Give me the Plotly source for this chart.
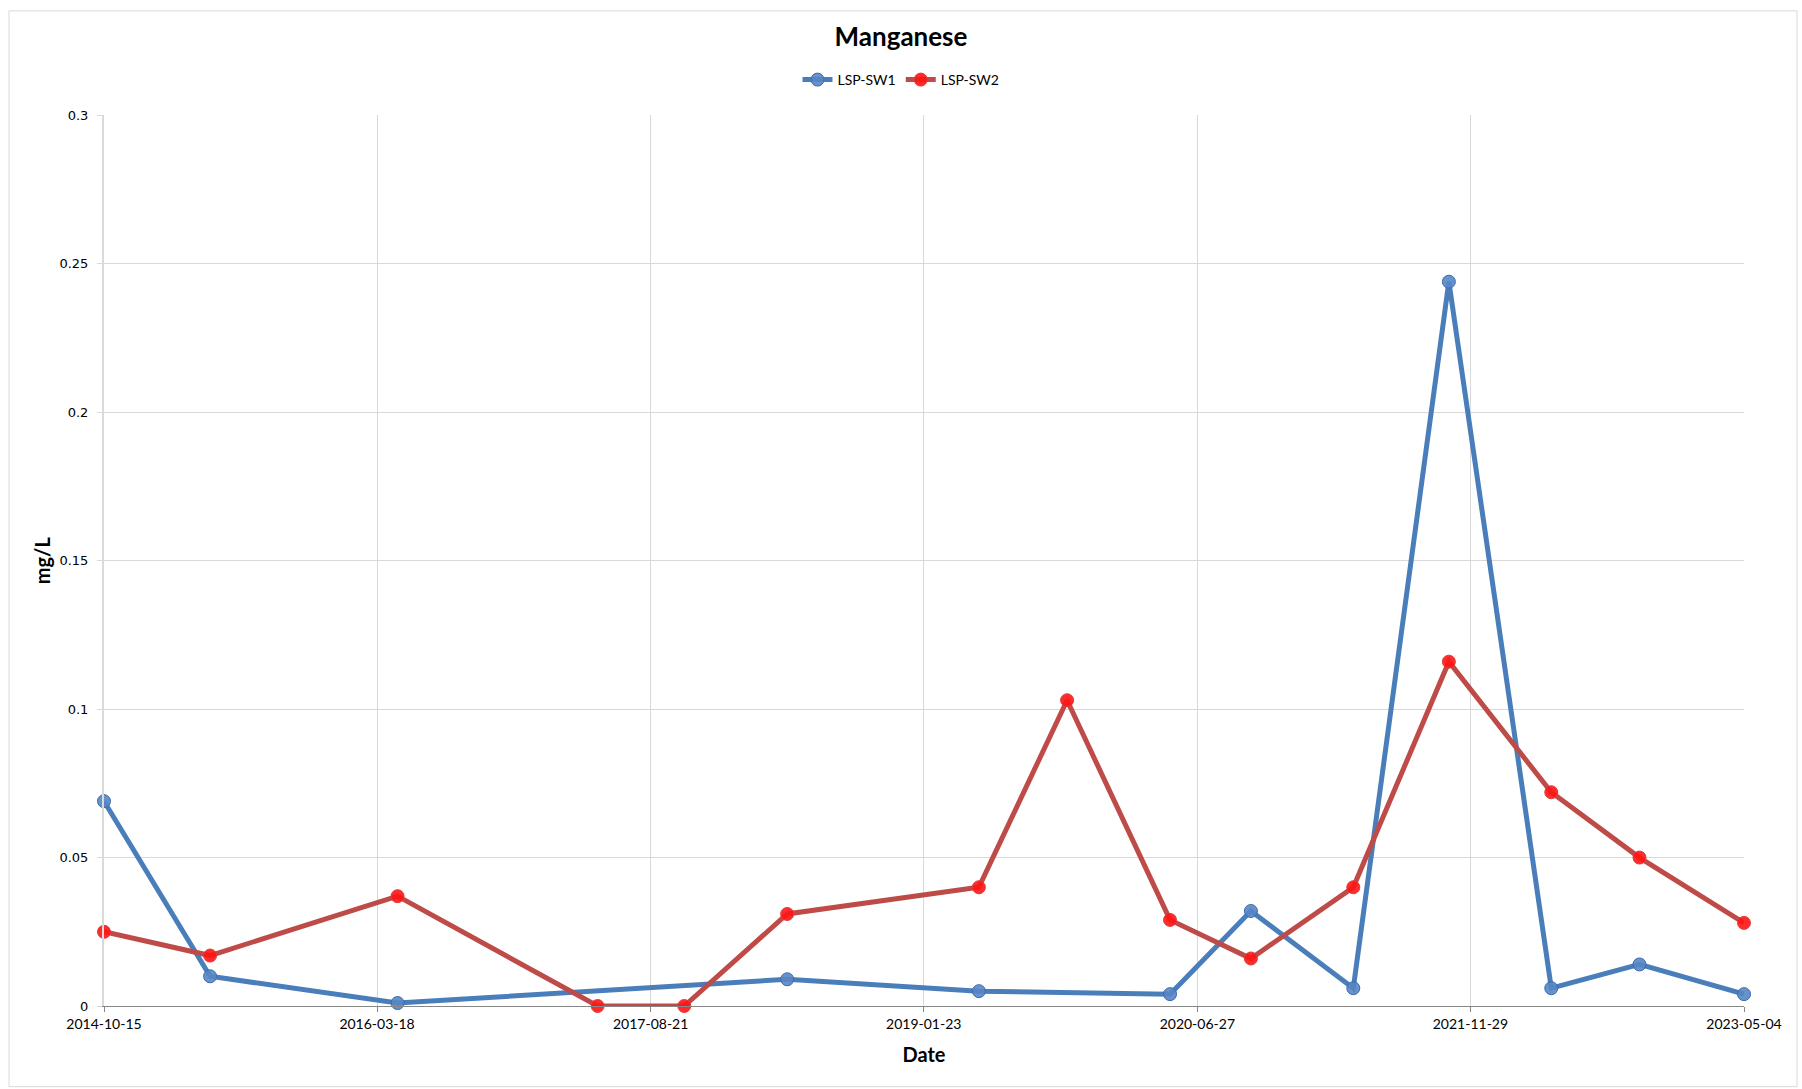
import plotly.graph_objects as go

# Manganese concentrations (mg/L) at the two surface-water stations
sw1_dates = ["2014-10-15", "2015-05-05", "2016-04-26", "2018-05-08", "2019-05-08",
             "2020-05-06", "2020-10-07", "2021-04-20", "2021-10-19", "2022-05-02",
             "2022-10-17", "2023-05-04"]
sw1_values = [0.069, 0.010, 0.001, 0.009, 0.005, 0.004, 0.032, 0.006, 0.244, 0.006,
              0.014, 0.004]

sw2_dates = ["2014-10-15", "2015-05-05", "2016-04-26", "2017-05-12", "2017-10-24",
             "2018-05-08", "2019-05-08", "2019-10-23", "2020-05-06", "2020-10-07",
             "2021-04-20", "2021-10-19", "2022-05-02", "2022-10-17", "2023-05-04"]
sw2_values = [0.025, 0.017, 0.037, 0.000, 0.000, 0.031, 0.040, 0.103, 0.029, 0.016,
              0.040, 0.116, 0.072, 0.050, 0.028]

x_ticks = ["2014-10-15", "2016-03-18", "2017-08-21", "2019-01-23", "2020-06-27",
           "2021-11-29", "2023-05-04"]

FONT = "Lato"
GRID = "#d9d9d9"

fig = go.Figure()

fig.add_trace(go.Scatter(
    x=sw1_dates, y=sw1_values, name="LSP-SW1", mode="lines+markers",
    line=dict(color="#4a7ebb", width=5),
    marker=dict(size=13, color="rgba(86,134,198,0.9)",
                line=dict(color="#3e6ca8", width=1)),
    cliponaxis=False,
))
fig.add_trace(go.Scatter(
    x=sw2_dates, y=sw2_values, name="LSP-SW2", mode="lines+markers",
    line=dict(color="#be4b48", width=5),
    marker=dict(size=13, color="rgba(255,20,20,0.9)",
                line=dict(color="#e23b3b", width=1)),
    cliponaxis=False,
))

fig.update_layout(
    width=1802, height=1089,
    margin=dict(l=104, r=58, t=112, b=83),
    paper_bgcolor="white", plot_bgcolor="white",
    font=dict(family=FONT, color="#000000"),
    title=dict(text="<b>Manganese</b>", x=0.5, xref="container", xanchor="center",
               y=1 - 37 / 1089, yref="container", yanchor="middle",
               font=dict(family=FONT, size=26, color="#000000")),
    legend=dict(orientation="h", x=0.5, xref="container", xanchor="center",
                y=1 - 80 / 1089, yref="container", yanchor="middle",
                font=dict(family=FONT, size=14), itemwidth=30,
                bgcolor="rgba(0,0,0,0)"),
    showlegend=True,
    xaxis=dict(
        type="date", range=[x_ticks[0], x_ticks[-1]],
        tickmode="array", tickvals=x_ticks, ticktext=x_ticks,
        showgrid=True, gridcolor=GRID, gridwidth=1,
        showline=True, linecolor="#868686", linewidth=1,
        ticks="outside", ticklen=5, tickcolor="#868686",
        tickfont=dict(family=FONT, size=14),
        zeroline=False,
        title=dict(text="<b>Date</b>", font=dict(family=FONT, size=20), standoff=17),
    ),
    yaxis=dict(
        range=[0, 0.3], dtick=0.05, tick0=0,
        showgrid=True, gridcolor=GRID, gridwidth=1,
        showline=True, linecolor=GRID, linewidth=2,
        ticks="outside", ticklen=5, tickcolor=GRID,
        tickfont=dict(family="DejaVu Sans", size=13),
        ticklabelstandoff=6,
        zeroline=False,
        title=dict(text="<b>mg/L</b>", font=dict(family=FONT, size=20), standoff=3),
    ),
    shapes=[dict(type="rect", xref="paper", yref="paper",
                 x0=(9 - 104) / 1640, x1=(1797 - 104) / 1640,
                 y0=(1006 - 1087) / 894, y1=(1006 - 7) / 894,
                 line=dict(color=GRID, width=1), fillcolor="rgba(0,0,0,0)",
                 layer="below")],
)

fig.write_html("out.html")
